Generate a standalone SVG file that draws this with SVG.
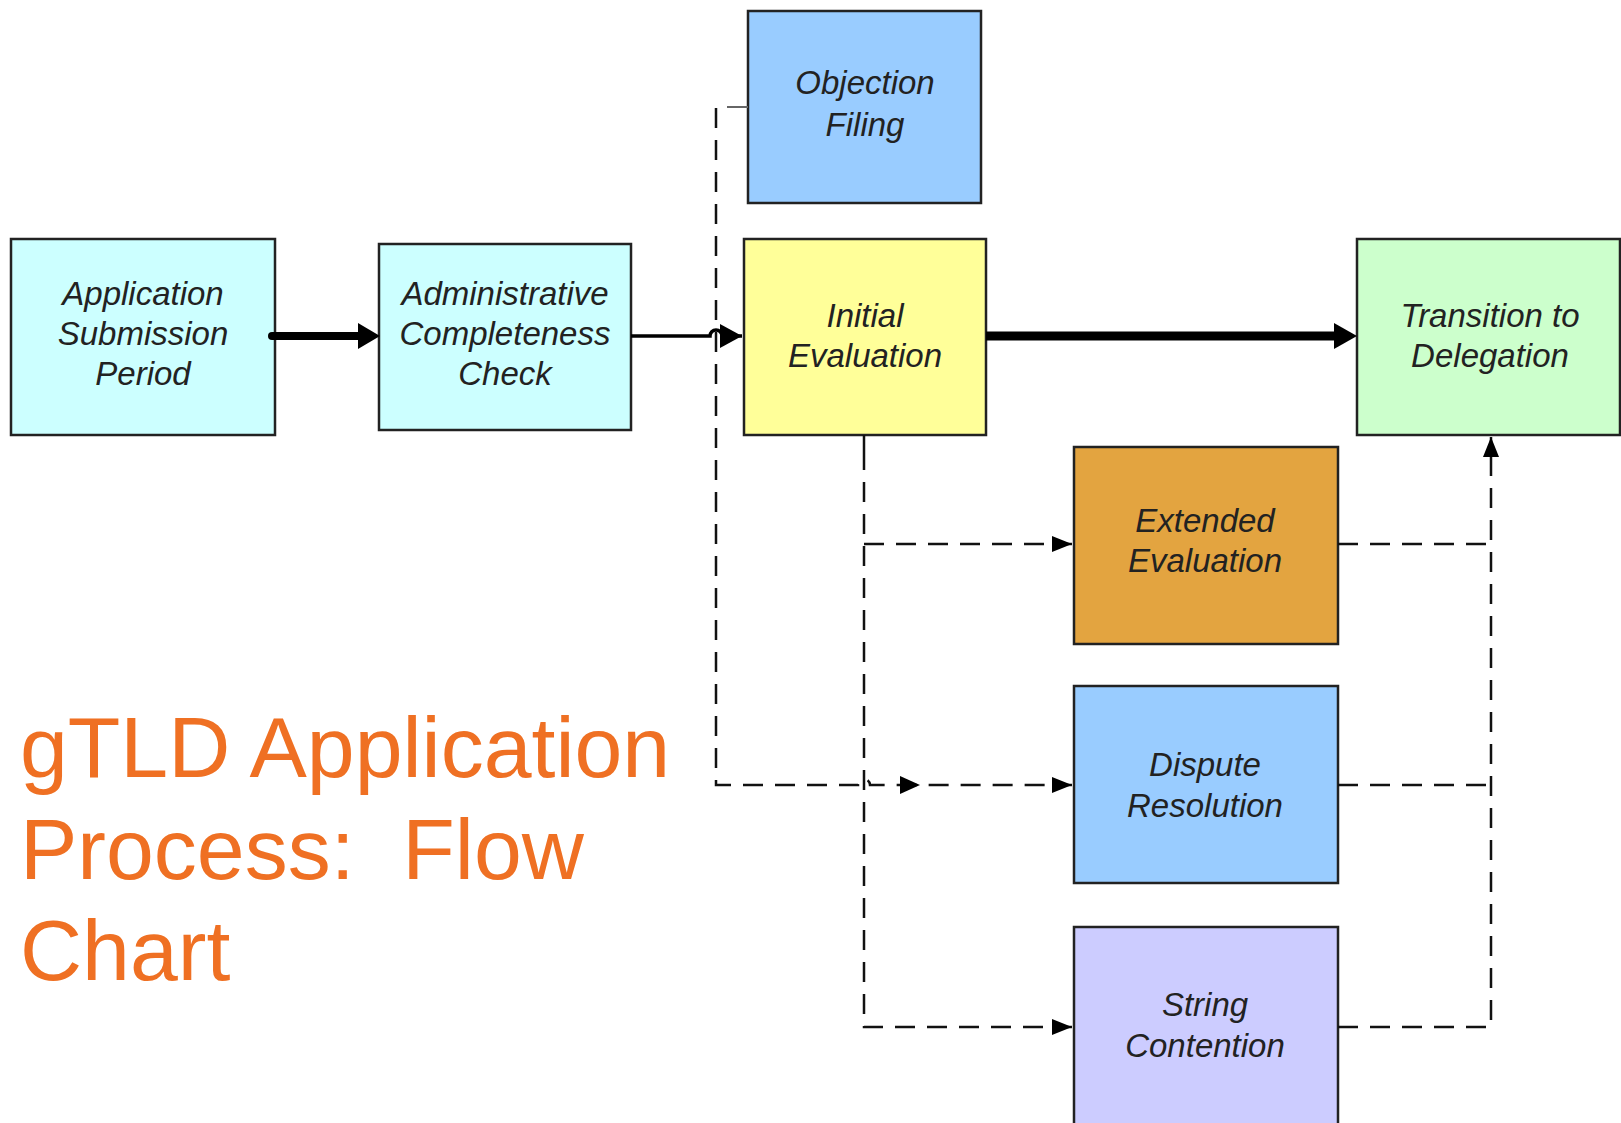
<svg xmlns="http://www.w3.org/2000/svg" width="1621" height="1123" viewBox="0 0 1621 1123">
  <style>
    .box { stroke: #222; stroke-width: 2.5; }
    .lbl { font-family: "Liberation Sans", Arial, sans-serif; font-style: italic; font-size: 33px; fill: #222; text-anchor: middle; }
    .dash { fill: none; stroke: #111; stroke-width: 2.5; stroke-dasharray: 20 12; }
    .solid { fill: none; stroke: #000; }
    .title { font-family: "Liberation Sans", Arial, sans-serif; font-size: 86px; fill: #EF7023; }
  </style>
  <defs>
    <marker id="head-s" markerUnits="userSpaceOnUse" markerWidth="22" markerHeight="18" refX="20" refY="9" orient="auto">
      <path d="M0,1 L20,9 L0,17 Z" fill="#000"/>
    </marker>
    <marker id="head-l" markerUnits="userSpaceOnUse" markerWidth="24" markerHeight="26" refX="22" refY="13" orient="auto">
      <path d="M0,1 L22,13 L0,25 Z" fill="#000"/>
    </marker>
  </defs>

  <rect width="1621" height="1123" fill="#fff"/>

  <!-- process boxes -->
  <g id="application-submission">
    <rect class="box" x="11" y="239" width="264" height="196" fill="#CCFFFF"/>
    <text class="lbl" x="143" y="305">Application</text>
    <text class="lbl" x="143" y="345">Submission</text>
    <text class="lbl" x="143" y="385">Period</text>
  </g>
  <g id="admin-check">
    <rect class="box" x="379" y="244" width="252" height="186" fill="#CCFFFF"/>
    <text class="lbl" x="505" y="305">Administrative</text>
    <text class="lbl" x="505" y="345">Completeness</text>
    <text class="lbl" x="505" y="385">Check</text>
  </g>
  <g id="objection-filing">
    <rect class="box" x="748" y="11" width="233" height="192" fill="#99CCFF"/>
    <text class="lbl" x="865" y="94">Objection</text>
    <text class="lbl" x="865" y="136">Filing</text>
  </g>
  <g id="initial-evaluation">
    <rect class="box" x="744" y="239" width="242" height="196" fill="#FFFF99"/>
    <text class="lbl" x="865" y="327">Initial</text>
    <text class="lbl" x="865" y="367">Evaluation</text>
  </g>
  <g id="transition-delegation">
    <rect class="box" x="1357" y="239" width="263" height="196" fill="#CCFFCC"/>
    <text class="lbl" x="1490" y="327">Transition to</text>
    <text class="lbl" x="1490" y="367">Delegation</text>
  </g>
  <g id="extended-evaluation">
    <rect class="box" x="1074" y="447" width="264" height="197" fill="#E3A440"/>
    <text class="lbl" x="1205" y="532">Extended</text>
    <text class="lbl" x="1205" y="572">Evaluation</text>
  </g>
  <g id="dispute-resolution">
    <rect class="box" x="1074" y="686" width="264" height="197" fill="#99CCFF"/>
    <text class="lbl" x="1205" y="776">Dispute</text>
    <text class="lbl" x="1205" y="817">Resolution</text>
  </g>
  <g id="string-contention">
    <rect class="box" x="1074" y="927" width="264" height="200" fill="#CCCCFF"/>
    <text class="lbl" x="1205" y="1016">String</text>
    <text class="lbl" x="1205" y="1057">Contention</text>
  </g>

  <!-- connectors -->
  <g id="connectors">
    <!-- main flow -->
    <path class="solid" d="M272,336 L360,336" stroke-width="8" stroke-linecap="round"/>
    <path d="M358,323 L380,336 L358,349 Z" fill="#000"/>
    <path class="solid" d="M631,336 L710,336 A6,6 0 0 1 722,336 L742,336" stroke-width="3.5" marker-end="url(#head-l)"/>
    <path class="solid" d="M986,336 L1334,336" stroke-width="9"/>
    <path d="M1334,323 L1357,336 L1334,349 Z" fill="#000"/>

    <!-- objection filing into dispute resolution -->
    <path d="M727,107 L748,107" fill="none" stroke="#666" stroke-width="2"/>
    <path class="dash" d="M716,108 L716,785 L858,785 A6,6 0 0 1 870,785 L1072,785" marker-end="url(#head-s)"/>
    <path d="M900,776 L920,785 L900,794 Z" fill="#000"/>

    <!-- initial evaluation branches -->
    <path d="M864,435 L864,450" fill="none" stroke="#111" stroke-width="2.5"/>
    <path class="dash" d="M864,450 L864,1027 L1072,1027" marker-end="url(#head-s)"/>
    <path class="dash" d="M864,544 L1072,544" marker-end="url(#head-s)"/>

    <!-- returns into transition to delegation -->
    <path class="dash" d="M1338,544 L1491,544"/>
    <path class="dash" d="M1338,785 L1491,785"/>
    <path class="dash" d="M1338,1027 L1491,1027 L1491,437" marker-end="url(#head-s)"/>
  </g>

  <!-- title -->
  <g id="title">
    <text class="title" x="20" y="777">gTLD Application</text>
    <text class="title" x="20" y="879" xml:space="preserve">Process:  Flow</text>
    <text class="title" x="20" y="980">Chart</text>
  </g>
</svg>
